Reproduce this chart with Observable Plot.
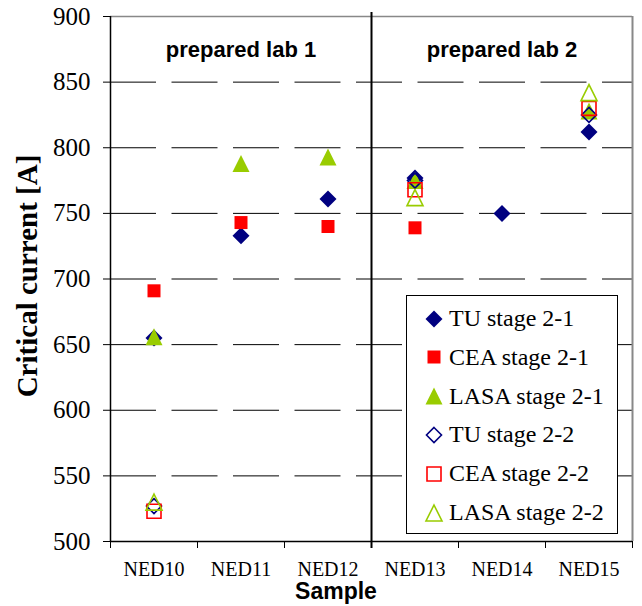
<!DOCTYPE html>
<html><head><meta charset="utf-8">
<script src="https://cdn.jsdelivr.net/npm/d3@7"></script>
<script src="https://cdn.jsdelivr.net/npm/@observablehq/plot@0.6"></script>
<style>
body{margin:0;background:#fff;}
#wrap{position:relative;width:642px;height:606px;overflow:hidden;}
#legend{position:absolute;left:406px;top:295px;width:210px;height:237px;border:1px solid #000;background:#fff;font-family:"Liberation Serif",serif;font-size:24px;color:#000;}
.row{position:absolute;left:0;height:39px;display:flex;align-items:center;white-space:nowrap;}
.row svg{margin-left:17px;margin-right:5px;}
</style></head><body><div id="wrap"></div>
<script>
// ---- data ----
const samples = ["NED10", "NED11", "NED12", "NED13", "NED14", "NED15"];
const tuStage21   = [655, 733, 761, 777, 750, 812];
const ceaStage21  = [691, 743, 740, 739, null, null];
const lasaStage21 = [656, 788, 793, 775, null, 828];
const tuStage22   = [527, null, null, 775, null, 825];
const ceaStage22  = [523, null, null, 768, null, 830];
const lasaStage22 = [530, null, null, 762, null, 842];
const yTicks = [500, 550, 600, 650, 700, 750, 800, 850, 900];
const groups = [{label: "prepared lab 1", from: 0, to: 3}, {label: "prepared lab 2", from: 3, to: 6}];

// ---- symbols (Excel-like) ----
const half = size => Math.sqrt(size / Math.PI);
const symDiamond = {draw(c, s){const r = half(s); c.moveTo(0,-r); c.lineTo(r,0); c.lineTo(0,r); c.lineTo(-r,0); c.closePath();}};
const symSquare = {draw(c, s){const r = half(s); c.moveTo(-r,-r); c.lineTo(r,-r); c.lineTo(r,r); c.lineTo(-r,r); c.closePath();}};
const symTriangle = {draw(c, s){const r = half(s); c.moveTo(0,-r); c.lineTo(r,r); c.lineTo(-r,r); c.closePath();}};

const navy = "#000080", red = "#ff0000", green = "#99cc00";
const series = [
  {name: "TU stage 2-1",   values: tuStage21,   symbol: symDiamond,  color: navy,  filled: true,  r: 8.5},
  {name: "CEA stage 2-1",  values: ceaStage21,  symbol: symSquare,   color: red,   filled: true,  r: 6.5},
  {name: "LASA stage 2-1", values: lasaStage21, symbol: symTriangle, color: green, filled: true,  r: 8.5},
  {name: "TU stage 2-2",   values: tuStage22,   symbol: symDiamond,  color: navy,  filled: false, r: 7.5},
  {name: "CEA stage 2-2",  values: ceaStage22,  symbol: symSquare,   color: red,   filled: false, r: 7},
  {name: "LASA stage 2-2", values: lasaStage22, symbol: symTriangle, color: green, filled: false, r: 8}
];

const rows = series.map(s => s.values.map((v, i) => ({x: i + 0.5, value: v, series: s.name})).filter(d => d.value != null));

const dotMarks = series.map((s, k) => Plot.dot(rows[k], {
  x: "x", y: "value", symbol: s.symbol, r: s.r,
  fill: s.filled ? s.color : "none",
  stroke: s.filled ? "none" : s.color,
  strokeWidth: s.filled ? 0 : 1.6
}));

const chart = Plot.plot({
  width: 642, height: 606,
  marginLeft: 110, marginRight: 10, marginTop: 16, marginBottom: 65,
  style: {fontFamily: "Liberation Serif, serif", fontSize: "22px", background: "#fff", color: "#000"},
  x: {type: "linear", domain: [0, samples.length], axis: null},
  y: {domain: [500, 900], axis: null},
  marks: [
    Plot.ruleY(yTicks.filter(t => t > 500 && t < 900), {stroke: "#000", strokeWidth: 1, strokeDasharray: "46,15.5"}),
    Plot.ruleY([900], {stroke: "#888", strokeWidth: 1.5}),
    Plot.ruleX([samples.length], {stroke: "#888", strokeWidth: 2}),
    Plot.ruleX([0], {stroke: "#000", strokeWidth: 1.5}),
    Plot.ruleY([500], {stroke: "#000", strokeWidth: 1.5}),
    Plot.ruleX([3], {stroke: "#000", strokeWidth: 2, insetTop: -4, insetBottom: -7}),
    Plot.axisY({ticks: yTicks, tickSize: 7, tickPadding: 13, tickFormat: d => String(d), label: null, fontSize: 25, stroke: "#000"}),
    Plot.axisX({ticks: d3.range(0, samples.length + 1), tickSize: 7, tickFormat: () => "", label: null, stroke: "#000"}),
    Plot.axisX({ticks: samples.map((d, i) => i + 0.5), tickSize: 0, tickPadding: 20, tickFormat: v => samples[Math.round(v - 0.5)], label: null, fontSize: 20}),
    Plot.text(groups, {x: d => (d.from + d.to) / 2, text: "label", frameAnchor: "top", dy: 25, fontFamily: "Liberation Sans, Arial, sans-serif", fontWeight: "bold", fontSize: 22}),
    ...dotMarks
  ]
});

const wrap = document.getElementById("wrap");
wrap.appendChild(chart);

// axis titles
const svg = d3.select(chart);
svg.append("text").attr("transform", "translate(30,276) rotate(-90)").attr("text-anchor", "middle")
  .attr("dominant-baseline", "middle")
  .attr("font-family", "Liberation Serif, serif").attr("font-weight", "bold").attr("font-size", 29).text("Critical current [A]");
svg.append("text").attr("x", 336).attr("y", 599).attr("text-anchor", "middle")
  .attr("font-family", "Liberation Sans, Arial, sans-serif").attr("font-weight", "bold").attr("font-size", 23).text("Sample");

// legend
const legend = document.createElement("div");
legend.id = "legend";
wrap.appendChild(legend);
series.forEach((s, k) => {
  const row = document.createElement("div");
  row.className = "row";
  row.style.top = (3 + k * 38.8) + "px";
  const ls = d3.create("svg").attr("width", 20).attr("height", 20);
  ls.append("path").attr("transform", "translate(10,10)")
    .attr("d", d3.symbol(s.symbol, s.r * s.r * Math.PI)())
    .attr("fill", s.filled ? s.color : "none")
    .attr("stroke", s.filled ? "none" : s.color)
    .attr("stroke-width", s.filled ? 0 : 1.6);
  row.appendChild(ls.node());
  const t = document.createElement("span");
  t.textContent = s.name;
  row.appendChild(t);
  legend.appendChild(row);
});
</script>
</body></html>
